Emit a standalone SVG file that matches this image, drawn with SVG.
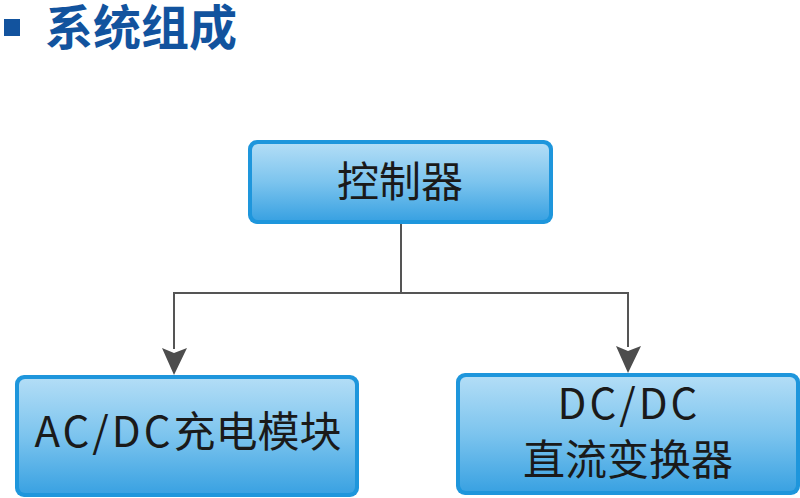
<svg xmlns="http://www.w3.org/2000/svg" width="800" height="498" viewBox="0 0 800 498">
<defs>
<linearGradient id="fill" x1="0" y1="0" x2="0" y2="1">
<stop offset="0" stop-color="#b2ddf6"/>
<stop offset="0.5" stop-color="#7cc4ee"/>
<stop offset="1" stop-color="#3aa2e2"/>
</linearGradient>
</defs>
<style>
.box{fill:#1e96dc}
.inner{fill:url(#fill)}
.lbl{font-family:"Noto Sans CJK SC","Open Sans",sans-serif;font-size:42px;fill:#1a1a1a;text-anchor:middle}
.lat{letter-spacing:3px}
.conn{fill:none;stroke:#555555;stroke-width:2}
.head{fill:#4d4d4d}
</style>
<rect width="800" height="498" fill="#ffffff"/>
<g id="title">
<rect x="4" y="19" width="16" height="17" fill="#12539e"/>
<text x="45" y="45" font-family="'Noto Sans CJK SC',sans-serif" font-weight="bold" font-size="48" fill="#12539e">系统组成</text>
</g>
<g id="connectors">
<polyline class="conn" points="401,224 401,293"/>
<polyline class="conn" points="174,349 174,293 628,293 628,347"/>
<path class="head" d="M162,348 L174,353 L187,348 L174,375 Z"/>
<path class="head" d="M616,346 L628,351 L641,346 L628,373 Z"/>
</g>
<g id="controller">
<rect class="box" x="248" y="140" width="305" height="84" rx="9"/>
<rect class="inner" x="252" y="144" width="297" height="76" rx="6"/>
<text class="lbl" x="400" y="197">控制器</text>
</g>
<g id="acdc">
<rect class="box" x="15" y="375" width="344" height="122" rx="9"/>
<rect class="inner" x="19" y="379" width="336" height="114" rx="6"/>
<text class="lbl" x="188" y="447"><tspan class="lat">AC/DC</tspan>充电模块</text>
</g>
<g id="dcdc">
<rect class="box" x="456" y="373" width="344" height="122" rx="9"/>
<rect class="inner" x="460" y="377" width="336" height="114" rx="6"/>
<text class="lbl lat" x="629" y="419">DC/DC</text>
<text class="lbl" x="628" y="475">直流变换器</text>
</g>
</svg>
